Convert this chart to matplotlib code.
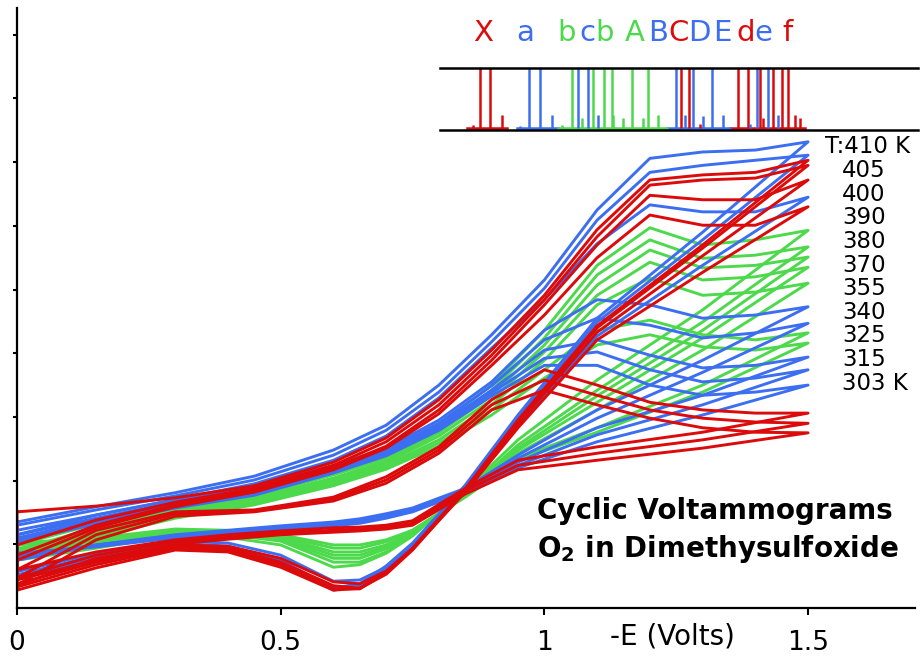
import matplotlib.pyplot as plt
import numpy as np

RED = '#dc0a0a'
BLUE = '#3c6ef2'
GREEN = '#4cd94c'

# -E (volts) sampling of the forward and the reverse sweep
e_fwd = [0, 0.15, 0.3, 0.45, 0.6, 0.7, 0.8, 0.9, 1.0, 1.1, 1.2, 1.3, 1.4, 1.5]
e_rev = [1.5, 1.3, 1.1, 0.95, 0.85, 0.75, 0.7, 0.65, 0.6, 0.5, 0.4, 0.3, 0.15, 0]

# current (arb. units)
# high temperature loops (deep anodic dip)
a1_fwd = [13.5, 15.9, 18.1, 20.7, 24.8, 28.7, 35.0, 42.9, 51.5, 62.5, 70.6, 71.6, 71.9, 73.2]
a1_rev = [73.2, 59.0, 45.5, 30.3, 19.3, 10.2, 6.6, 3.8, 3.1, 7.5, 9.7, 10.2, 8.2, 5.2]
a2_fwd = [13.0, 15.4, 17.6, 20.1, 24.0, 27.9, 33.9, 41.8, 50.2, 60.9, 68.4, 69.5, 70.3, 71.1]
a2_rev = [71.1, 57.8, 44.9, 29.8, 19.0, 9.9, 6.3, 3.5, 2.8, 7.1, 9.4, 9.9, 7.8, 4.7]
a3_fwd = [15.1, 16.0, 17.3, 19.2, 22.9, 26.7, 32.7, 40.5, 49.1, 59.4, 67.2, 68.0, 68.4, 70.3]
a3_rev = [70.3, 57.0, 44.3, 29.5, 18.7, 9.4, 5.7, 3.1, 2.8, 6.4, 8.8, 9.1, 6.3, 2.8]
a4_fwd = [9.9, 13.8, 16.6, 18.8, 22.4, 26.1, 31.9, 39.7, 48.4, 58.3, 66.4, 67.2, 67.5, 69.5]
a4_rev = [69.5, 56.5, 44.0, 29.2, 18.5, 9.3, 5.5, 3.0, 3.0, 6.8, 9.1, 9.4, 6.8, 3.3]
a5_fwd = [8.3, 13.0, 16.2, 18.5, 22.0, 25.4, 31.1, 38.9, 47.6, 57.0, 64.8, 64.1, 64.1, 67.2]
a5_rev = [67.2, 55.3, 43.3, 28.9, 18.4, 9.1, 5.3, 3.1, 3.5, 7.2, 9.4, 9.7, 7.2, 3.8]
a6_fwd = [11.5, 14.6, 17.0, 19.5, 23.2, 27.0, 33.0, 40.8, 48.4, 57.2, 63.3, 62.2, 62.2, 64.5]
a6_rev = [64.5, 53.8, 42.7, 28.7, 18.4, 9.7, 6.4, 4.4, 4.2, 8.3, 10.2, 10.5, 8.6, 5.7]
a7_fwd = [7.5, 12.6, 15.9, 18.2, 21.7, 25.1, 30.5, 38.1, 46.0, 55.0, 61.7, 60.1, 60.1, 63.0]
a7_rev = [63.0, 52.7, 42.1, 28.3, 18.2, 9.3, 5.8, 3.8, 4.1, 7.8, 9.7, 9.9, 7.5, 4.4]

# intermediate loops
b1_fwd = [10.7, 13.8, 16.2, 18.1, 21.4, 24.0, 28.7, 35.0, 43.6, 53.8, 59.7, 57.0, 57.8, 59.3]
b1_rev = [59.3, 46.8, 35.8, 26.4, 18.5, 11.3, 8.6, 6.8, 6.4, 9.9, 11.1, 11.5, 9.4, 7.5]
b2_fwd = [9.9, 13.2, 15.7, 17.6, 20.9, 23.5, 27.9, 34.2, 42.4, 52.3, 57.8, 54.9, 55.4, 56.7]
b2_rev = [56.7, 44.9, 34.2, 25.6, 18.2, 11.5, 8.8, 7.2, 7.2, 10.5, 11.5, 11.6, 9.7, 8.2]
b3_fwd = [9.1, 12.6, 15.4, 17.3, 20.4, 23.1, 27.5, 33.4, 41.3, 50.7, 56.2, 53.4, 53.8, 55.1]
b3_rev = [55.1, 43.6, 33.3, 25.1, 18.1, 11.6, 9.3, 7.8, 7.8, 10.7, 11.6, 11.8, 9.9, 8.6]
b4_fwd = [8.6, 12.2, 15.1, 17.0, 20.1, 22.8, 27.0, 32.7, 40.2, 49.1, 54.3, 51.5, 52.0, 53.5]
b4_rev = [53.5, 42.4, 32.3, 24.8, 17.9, 11.8, 9.6, 8.3, 8.3, 11.0, 11.8, 11.9, 10.2, 9.1]
b5_fwd = [8.2, 11.9, 14.8, 16.6, 19.8, 22.4, 26.4, 31.9, 38.9, 47.6, 51.8, 49.1, 49.6, 51.0]
b5_rev = [51.0, 40.5, 31.1, 24.3, 17.7, 11.9, 9.9, 8.8, 8.8, 11.1, 11.9, 12.1, 10.4, 9.4]
b6_fwd = [7.8, 11.5, 14.4, 16.5, 19.5, 22.1, 25.9, 31.1, 37.4, 43.6, 45.2, 42.9, 42.1, 43.2]
b6_rev = [43.2, 35.0, 28.3, 23.5, 17.6, 12.2, 10.4, 9.4, 9.4, 11.3, 12.1, 12.2, 10.7, 9.9]
b7_fwd = [7.5, 11.1, 14.1, 16.2, 19.2, 21.8, 25.4, 30.3, 36.1, 41.3, 42.9, 41.0, 40.5, 41.6]
b7_rev = [41.6, 33.9, 27.6, 23.2, 17.4, 12.2, 10.7, 9.9, 9.9, 11.5, 12.2, 12.4, 11.0, 10.2]

# low temperature loops (flat reverse sweep)
c1_fwd = [12.2, 14.6, 17.0, 19.0, 22.4, 25.1, 29.5, 35.5, 43.6, 48.4, 47.6, 45.5, 46.0, 47.3]
c1_rev = [47.3, 38.9, 31.1, 24.0, 18.8, 15.7, 14.8, 14.0, 13.5, 12.9, 12.2, 11.5, 9.9, 7.5]
c2_fwd = [11.5, 14.1, 16.6, 18.7, 22.1, 24.8, 29.0, 34.9, 42.1, 45.5, 44.4, 42.4, 43.2, 44.7]
c2_rev = [44.7, 37.0, 29.8, 23.5, 18.7, 15.5, 14.6, 13.8, 13.3, 12.7, 12.1, 11.3, 9.7, 7.8]
c3_fwd = [11.0, 13.8, 16.3, 18.4, 21.8, 24.5, 28.6, 34.2, 40.5, 42.1, 39.7, 37.7, 38.1, 39.4]
c3_rev = [39.4, 33.4, 28.3, 22.9, 18.5, 15.4, 14.4, 13.7, 13.2, 12.6, 12.1, 11.3, 9.9, 8.2]
c4_fwd = [10.7, 13.5, 16.0, 18.1, 21.5, 24.2, 28.3, 33.8, 39.2, 40.2, 37.4, 35.5, 36.1, 37.4]
c4_rev = [37.4, 31.9, 27.2, 22.4, 18.4, 15.2, 14.3, 13.5, 13.0, 12.6, 11.9, 11.1, 9.7, 8.3]
c5_fwd = [10.4, 13.2, 15.7, 17.7, 21.2, 23.9, 27.9, 33.3, 38.1, 38.1, 35.0, 33.4, 33.9, 35.0]
c5_rev = [35.0, 30.3, 26.1, 22.0, 18.2, 15.1, 14.1, 13.3, 12.9, 12.4, 11.8, 11.0, 9.6, 8.6]
d1_fwd = [6.0, 12.2, 15.1, 15.4, 17.4, 20.6, 25.3, 32.7, 37.4, 35.0, 32.3, 31.1, 30.6, 30.6]
d1_rev = [30.6, 27.6, 25.3, 23.2, 18.8, 13.7, 13.0, 12.7, 12.6, 12.1, 11.5, 10.7, 8.8, 6.0]
d2_fwd = [4.7, 11.5, 14.8, 15.2, 17.1, 20.1, 24.8, 31.9, 35.8, 33.4, 31.1, 29.8, 29.2, 29.0]
d2_rev = [29.0, 26.4, 24.3, 22.4, 18.4, 13.3, 12.7, 12.4, 12.2, 11.8, 11.1, 10.4, 8.3, 4.7]
d3_fwd = [3.6, 10.7, 14.4, 15.1, 16.8, 19.6, 24.3, 31.1, 34.2, 31.9, 29.8, 28.3, 27.6, 27.5]
d3_rev = [27.5, 25.1, 23.2, 21.7, 17.9, 13.0, 12.4, 12.1, 11.9, 11.5, 10.8, 10.0, 7.8, 3.6]

loops = [
    (b1_fwd, b1_rev, GREEN), (b2_fwd, b2_rev, GREEN), (b3_fwd, b3_rev, GREEN),
    (b4_fwd, b4_rev, GREEN), (b5_fwd, b5_rev, GREEN), (b6_fwd, b6_rev, GREEN),
    (b7_fwd, b7_rev, GREEN),
    (c1_fwd, c1_rev, BLUE), (c2_fwd, c2_rev, BLUE), (c3_fwd, c3_rev, BLUE),
    (c4_fwd, c4_rev, BLUE), (c5_fwd, c5_rev, BLUE),
    (a1_fwd, a1_rev, BLUE), (a2_fwd, a2_rev, BLUE), (a6_fwd, a6_rev, BLUE),
    (a3_fwd, a3_rev, RED), (a4_fwd, a4_rev, RED), (a5_fwd, a5_rev, RED),
    (a7_fwd, a7_rev, RED),
    (d1_fwd, d1_rev, RED), (d2_fwd, d2_rev, RED), (d3_fwd, d3_rev, RED),
]

temps = ['410', '405', '400', '390', '380', '370', '355', '340', '325', '315', '303']

# stick spectrum in the inset: position, relative height
red_pk = [0.878, 0.897, 0.920, 0.865, 1.259, 1.274, 1.295, 1.367, 1.386, 1.409,
          1.415, 1.434, 1.451, 1.462, 1.475, 1.485]
red_h = [1.0, 1.0, 0.25, 0.08, 1.0, 1.0, 0.1, 1.0, 1.0, 1.0, 0.2, 1.0, 1.0, 1.0, 0.25, 0.2]
blue_pk = [0.954, 0.971, 0.992, 1.015, 1.064, 1.083, 1.102, 1.250, 1.267, 1.282,
           1.301, 1.318, 1.339, 1.390, 1.403, 1.424, 1.443]
blue_h = [0.06, 1.0, 1.0, 0.24, 1.0, 1.0, 0.25, 1.0, 0.25, 1.0, 0.23, 1.0, 0.24,
          0.1, 1.0, 1.0, 0.24]
green_pk = [1.034, 1.053, 1.072, 1.092, 1.113, 1.128, 1.130, 1.149, 1.166, 1.187,
            1.197, 1.216]
green_h = [0.08, 1.0, 0.2, 1.0, 1.0, 1.0, 0.25, 0.2, 1.0, 0.2, 1.0, 0.25]
base_red = [(0.853, 0.929), (1.352, 1.494)]
base_blue = [(0.948, 1.026), (1.233, 1.352)]
base_green = [(1.026, 1.233)]

letters = ['X', 'a', 'b', 'c', 'b', 'A', 'B', 'C', 'D', 'E', 'd', 'e', 'f']
letter_pos = [0.884, 0.963, 1.043, 1.081, 1.115, 1.172, 1.216, 1.254, 1.295,
              1.337, 1.381, 1.415, 1.462]
letter_col = [RED, BLUE, GREEN, BLUE, GREEN, GREEN, BLUE, RED, BLUE, BLUE, RED, BLUE, RED]

plt.rcParams['font.family'] = 'DejaVu Sans'
plt.rcParams['mathtext.fontset'] = 'dejavusans'

fig = plt.figure(figsize=(9.24, 6.6), dpi=100)
ax = fig.add_axes([0.0184, 0.0788, 0.972, 0.909])

for fwd, rev, col in loops:
    x = e_fwd + e_rev[1:] + [0]
    y = fwd + rev[1:] + [fwd[0]]
    ax.plot(x, y, color=col, lw=2.1, solid_joinstyle='round')

ax.set_xlim(0, 1.703)
ax.set_ylim(0, 94.2)
ax.set_xticks([0, 0.5, 1, 1.5])
ax.set_xticklabels(['0', '0.5', '1', '1.5'])
ax.set_yticks(np.arange(10, 91, 10))
ax.set_yticklabels([])
ax.tick_params(axis='x', direction='out', length=5, width=1.5, pad=11, labelsize=19)
ax.tick_params(axis='y', direction='out', length=3, width=1.5)
for s in ['top', 'right']:
    ax.spines[s].set_visible(False)
for s in ['left', 'bottom']:
    ax.spines[s].set_linewidth(1.6)

ax.text(1.242, -4.4, '-E (Volts)', fontsize=20, ha='center', va='center', clip_on=False)

# temperature labels next to the sweep ends
y0, dy = 72.4, 3.71
for i, t in enumerate(temps):
    if i == 0:
        ax.text(1.532, y0, 'T:' + t + ' K', fontsize=16.5, va='center')
    elif i == len(temps) - 1:
        ax.text(1.565, y0 - i * dy, t + ' K', fontsize=16.5, va='center')
    else:
        ax.text(1.565, y0 - i * dy, t, fontsize=16.5, va='center')

ax.text(0.986, 14.0, 'Cyclic Voltammograms', fontsize=20, fontweight='bold', va='baseline')
ax.text(0.986, 8.0, r'$\mathbf{O_2}$ in Dimethysulfoxide', fontsize=20,
        fontweight='bold', va='baseline')

# inset stick spectrum
axi = fig.add_axes([440 / 924, 1 - 130 / 660, 478 / 924, 62 / 660])
axi.set_facecolor('none')
axi.set_xlim(0.802, 1.709)
axi.set_ylim(0, 1)
axi.set_xticks([])
axi.set_yticks([])
for s in ['left', 'right']:
    axi.spines[s].set_visible(False)
for s in ['top', 'bottom']:
    axi.spines[s].set_linewidth(1.8)

for segs, col in [(base_red, RED), (base_blue, BLUE), (base_green, GREEN)]:
    for a, b in segs:
        axi.plot([a, b], [0.04, 0.04], color=col, lw=1.8)
axi.vlines(red_pk, 0.03, red_h, color=RED, lw=1.8)
axi.vlines(blue_pk, 0.03, blue_h, color=BLUE, lw=1.8)
axi.vlines(green_pk, 0.03, green_h, color=GREEN, lw=1.8)

for ch, xp, col in zip(letters, letter_pos, letter_col):
    axi.text(xp, 1.43, ch, color=col, fontsize=21, ha='center', va='baseline', clip_on=False)

fig.savefig('out.png', dpi=100)
